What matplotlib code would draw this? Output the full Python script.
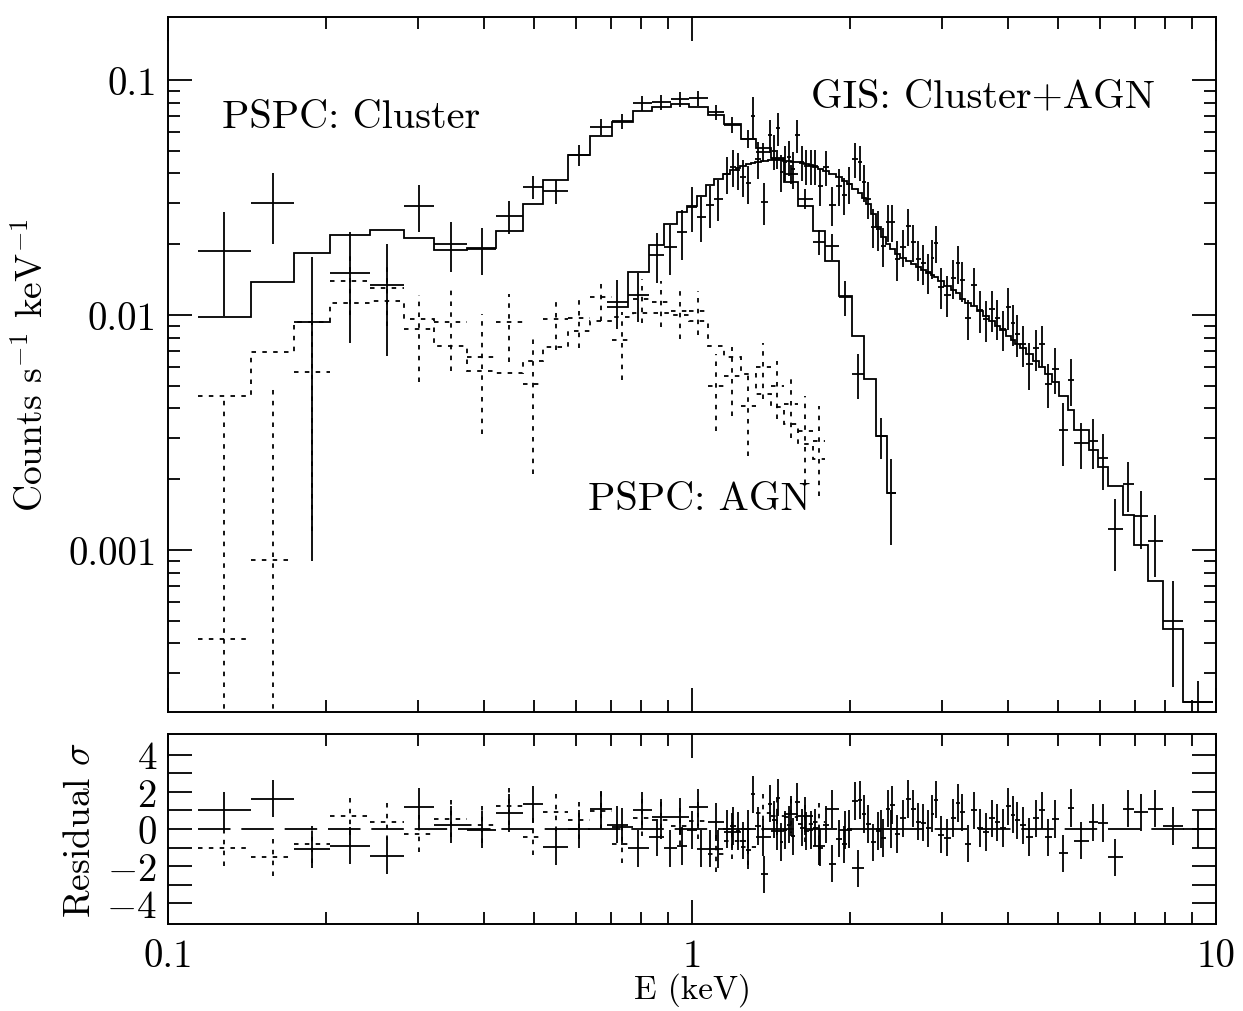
#-*- coding: utf-8 -*-
# Spectre X : PSPC (amas + AGN) et GIS (amas + AGN), avec residus
import numpy as np
import matplotlib
matplotlib.use('Agg')
import matplotlib.pyplot as plt
from matplotlib.ticker import FixedLocator, FixedFormatter, LogLocator, NullFormatter

# ---- PSPC : bornes des canaux (keV)
pspc_edges = [0.114, 0.144, 0.174, 0.204, 0.243, 0.282, 0.322, 0.372, 0.423,
              0.475, 0.520, 0.581, 0.640, 0.702, 0.770, 0.840, 0.910, 0.985,
              1.071, 1.149, 1.238, 1.322, 1.413, 1.496, 1.591, 1.699, 1.791,
              1.905, 2.017, 2.127, 2.242, 2.353, 2.447]

# PSPC amas : taux, erreurs, modele (counts/s/keV)
clu_rate = [0.0187, 0.0300, 0.0093, 0.0151, 0.0134, 0.0291, 0.0200, 0.0191,
            0.0264, 0.0350, 0.0337, 0.0480, 0.0631, 0.0669, 0.0798, 0.0806,
            0.0830, 0.0838, 0.0731, 0.0643, 0.0561, 0.0494, 0.0461, 0.0398,
            0.0312, 0.0205, 0.0197, 0.0119, 0.0056, np.nan, 0.00305, 0.00175]
clu_err = [0.0088, 0.0100, 0.0084, 0.0075, 0.0067, 0.0066, 0.0048, 0.0043,
           0.0042, 0.0040, 0.0040, 0.0048, 0.0050, 0.0050, 0.0060, 0.0060,
           0.0060, 0.0060, 0.0055, 0.0050, 0.0050, 0.0045, 0.0042, 0.0038,
           0.0030, 0.0025, 0.0025, 0.0020, 0.0012, np.nan, 0.0006, 0.0007]
clu_model = [0.0098, 0.0138, 0.0184, 0.0219, 0.0230, 0.0213, 0.0189, 0.0193,
             0.0228, 0.0297, 0.0375, 0.0480, 0.0578, 0.0663, 0.0738, 0.0768,
             0.0790, 0.0768, 0.0710, 0.0650, 0.0561, 0.0514, 0.0466, 0.0368,
             0.0291, 0.0228, 0.0170, 0.0120, 0.00814, 0.00534, 0.00305, 0.00175]

# PSPC AGN (26 premiers canaux)
agn_rate = [0.00042, 0.00091, 0.0057, 0.0140, 0.0130, 0.0087, 0.0093, 0.0066,
            0.0093, 0.0051, 0.0096, 0.0097, 0.0119, 0.0078, 0.0117, 0.0114,
            0.0104, 0.0104, 0.0050, 0.0055, 0.0041, 0.0060, 0.0050, 0.0042,
            0.0032, 0.0029]
agn_err = [0.0041, 0.0040, 0.0045, 0.0040, 0.0040, 0.0035, 0.0035, 0.0035,
           0.0030, 0.0030, 0.0025, 0.0025, 0.0025, 0.0025, 0.0025, 0.0025,
           0.0025, 0.0022, 0.0018, 0.0018, 0.0016, 0.0016, 0.0014, 0.0012,
           0.0013, 0.0012]
agn_model = [0.00452, 0.00696, 0.00934, 0.01125, 0.01147, 0.0096, 0.00738,
             0.00578, 0.00567, 0.00637, 0.00731, 0.00855, 0.00943, 0.0098,
             0.0102, 0.0102, 0.0100, 0.00943, 0.00738, 0.00663, 0.00561,
             0.00461, 0.00406, 0.00344, 0.00283, 0.00244]

# ---- GIS : amas + AGN
gis_edges = [0.687, 0.756, 0.826, 0.886, 0.934, 0.980, 1.020, 1.061, 1.099, 1.144,
             1.184, 1.211, 1.233, 1.266, 1.293, 1.316, 1.352, 1.394, 1.419, 1.444,
             1.470, 1.489, 1.516, 1.543, 1.570, 1.605, 1.633, 1.669, 1.699, 1.736,
             1.775, 1.823, 1.880, 1.930, 1.973, 2.017, 2.071, 2.108, 2.145, 2.193,
             2.242, 2.291, 2.342, 2.384, 2.437, 2.491, 2.557, 2.614, 2.672, 2.731,
             2.793, 2.855, 2.893, 2.944, 3.023, 3.117, 3.187, 3.243, 3.315, 3.404,
             3.495, 3.588, 3.684, 3.784, 3.867, 3.971, 4.058, 4.131, 4.222, 4.335,
             4.471, 4.591, 4.714, 4.861, 5.013, 5.215, 5.355, 5.721, 5.952, 6.220,
             6.643, 6.972, 7.416, 7.920, 8.650, 9.870]
gis_rate = [0.0114, 0.0122, 0.0180, 0.0195, 0.0225, 0.0288, 0.0261, 0.0294, 0.0312, 0.0398,
            0.0426, 0.0414, 0.0387, 0.0364, 0.0703, 0.0461, 0.0303, 0.0583, 0.0499, 0.0625,
            0.0406, 0.0448, 0.0470, 0.0418, 0.0583, 0.0448, 0.0431, 0.0431, 0.0431, 0.0354,
            0.0426, 0.0294, 0.0354, 0.0324, 0.0361, 0.0461, 0.0448, 0.0368, 0.0312, 0.0237,
            0.0232, 0.0197, 0.0249, 0.0249, 0.0173, 0.0195, 0.0239, 0.0205, 0.0173, 0.0166,
            0.0152, 0.0175, 0.0203, 0.0132, 0.0122, 0.0144, 0.0166, 0.0141, 0.0097, 0.0134,
            0.0105, 0.0096, 0.0106, 0.0097, 0.0087, 0.0108, 0.0092, 0.0083, 0.0075, 0.0062,
            0.0072, 0.0075, 0.0051, 0.0059, 0.00324, 0.0053, 0.00285, 0.00291, 0.00246, 0.00123,
            0.00191, 0.00140, 0.00109, 0.00050, 0.000226]
gis_err = [0.0027, 0.0029, 0.0043, 0.0047, 0.0054, 0.0063, 0.0057, 0.0059, 0.0062, 0.0072,
           0.0077, 0.0075, 0.0070, 0.0066, 0.0140, 0.0083, 0.0061, 0.0093, 0.0085, 0.0100,
           0.0073, 0.0076, 0.0080, 0.0075, 0.0093, 0.0076, 0.0073, 0.0073, 0.0073, 0.0064,
           0.0072, 0.0056, 0.0064, 0.0058, 0.0065, 0.0078, 0.0076, 0.0066, 0.0056, 0.0045,
           0.0044, 0.0037, 0.0045, 0.0045, 0.0033, 0.0035, 0.0043, 0.0037, 0.0033, 0.0032,
           0.0029, 0.0033, 0.0037, 0.0026, 0.0024, 0.0027, 0.0030, 0.0027, 0.0019, 0.0025,
           0.0021, 0.0019, 0.0021, 0.0019, 0.0017, 0.0022, 0.0018, 0.0017, 0.0015, 0.0014,
           0.0014, 0.0015, 0.0011, 0.0013, 0.00097, 0.0012, 0.00063, 0.00070, 0.00066, 0.00042,
           0.00046, 0.00039, 0.00032, 0.00024, 0.000052]
gis_model = [0.0108, 0.0152, 0.0199, 0.0244, 0.0274, 0.0291, 0.0321, 0.0357, 0.0379, 0.0398,
             0.0414, 0.0422, 0.0431, 0.0439, 0.0443, 0.0448, 0.0452, 0.0457, 0.0457, 0.0457,
             0.0457, 0.0452, 0.0452, 0.0448, 0.0448, 0.0443, 0.0439, 0.0435, 0.0426, 0.0418,
             0.0410, 0.0398, 0.0387, 0.0372, 0.0361, 0.0344, 0.0330, 0.0315, 0.0297, 0.0269,
             0.0237, 0.0215, 0.0200, 0.0191, 0.0182, 0.0175, 0.0170, 0.0165, 0.0160, 0.0155,
             0.0151, 0.0148, 0.0145, 0.0140, 0.0133, 0.0128, 0.0124, 0.0117, 0.0112, 0.0109,
             0.0104, 0.0099, 0.0094, 0.0090, 0.0086, 0.0081, 0.0078, 0.0075, 0.0072, 0.0068,
             0.0064, 0.0060, 0.0056, 0.0052, 0.0045, 0.00394, 0.00324, 0.00266, 0.00225, 0.00187,
             0.00141, 0.00105, 0.00074, 0.00046, 0.000226]

DOT = (0, (2.5, 3.5))  # style pointille (PSPC AGN)
LW = 1.3
FS = 28   # textes et graduations
FSL = 27  # titres des axes

plt.rcParams['font.family'] = 'cmr10'
plt.rcParams['mathtext.fontset'] = 'cm'
plt.rcParams['axes.unicode_minus'] = False
plt.rcParams['axes.linewidth'] = 1.4


def croix(a, edges, y, err, ls='-'):
    """barres d'erreur en croix : largeur du canal x +/- erreur"""
    edges = np.asarray(edges)
    lo, hi = edges[:-1], edges[1:]
    xc = np.sqrt(lo * hi)
    eb = a.errorbar(xc, y, xerr=[xc - lo, hi - xc], yerr=err, fmt='none',
                    ecolor='k', elinewidth=LW, capsize=0)
    if ls != '-':
        for lc in eb[2]:
            lc.set_linestyle(ls)


def residu(rate, model, err):
    return (np.asarray(rate) - np.asarray(model)) / np.asarray(err)


fig = plt.figure(figsize=(12.43, 10.12), dpi=100)
ax = fig.add_axes([0.1352, 0.2955, 0.8431, 0.6867])
axr = fig.add_axes([0.1352, 0.0860, 0.8431, 0.1877])

# panneau du haut : donnees + modeles
croix(ax, pspc_edges, clu_rate, clu_err)
ax.stairs(clu_model, pspc_edges, color='k', lw=LW, baseline=None)
croix(ax, pspc_edges[:len(agn_rate) + 1], agn_rate, agn_err, ls=DOT)
ax.stairs(agn_model, pspc_edges[:len(agn_model) + 1], color='k', lw=LW,
          baseline=None, linestyle=DOT)
croix(ax, gis_edges, gis_rate, gis_err)
ax.stairs(gis_model, gis_edges, color='k', lw=LW, baseline=None)

ax.text(0.1268, 0.0696, 'PSPC: Cluster', fontsize=FS + 1, va='center', ha='left')
ax.text(1.684, 0.0855, 'GIS: Cluster+AGN', fontsize=FS + 1, va='center', ha='left')
ax.text(0.634, 0.00165, 'PSPC: AGN', fontsize=FS + 1, va='center', ha='left')

ax.set_xscale('log')
ax.set_yscale('log')
ax.set_xlim(0.1, 10)
ax.set_ylim(2.045e-4, 0.1853)
ax.yaxis.set_major_locator(FixedLocator([0.001, 0.01, 0.1]))
ax.yaxis.set_major_formatter(FixedFormatter(['0.001', '0.01', '0.1']))
ax.yaxis.set_minor_locator(LogLocator(base=10, subs=np.arange(2, 10)))
ax.yaxis.set_minor_formatter(NullFormatter())
ax.set_ylabel(r'Counts s$^{-1}$ keV$^{-1}$', fontsize=FSL)
ax.yaxis.set_label_coords(-0.113, 0.5)
ax.tick_params(labelbottom=False)

# panneau du bas : residus en sigma
axr.plot([pspc_edges[0], gis_edges[-1]], [0, 0], color='k', lw=LW,
         linestyle=(0, (18, 6)))
croix(axr, pspc_edges, residu(clu_rate, clu_model, clu_err), 1.0)
croix(axr, pspc_edges[:len(agn_rate) + 1], residu(agn_rate, agn_model, agn_err),
      1.0, ls=DOT)
croix(axr, gis_edges, residu(gis_rate, gis_model, gis_err), 1.0)

axr.set_xscale('log')
axr.set_xlim(0.1, 10)
axr.set_ylim(-5.1, 5.1)
axr.xaxis.set_major_locator(FixedLocator([0.1, 1, 10]))
axr.xaxis.set_major_formatter(FixedFormatter(['0.1', '1', '10']))
axr.xaxis.set_minor_locator(LogLocator(base=10, subs=np.arange(2, 10)))
axr.xaxis.set_minor_formatter(NullFormatter())
axr.yaxis.set_major_locator(FixedLocator(range(-4, 5)))
axr.yaxis.set_major_formatter(FixedFormatter(
    ['$-4$', '', '$-2$', '', '0', '', '2', '', '4']))
axr.set_ylabel(r'Residual $\sigma$', fontsize=FSL)
axr.yaxis.set_label_coords(-0.068, 0.5)
axr.set_xlabel('E (keV)', fontsize=24)
axr.xaxis.set_label_coords(0.5, -0.255)

for a in (ax, axr):
    a.tick_params(which='both', direction='in', top=True, right=True,
                  width=1.3, labelsize=FS)
    a.tick_params(which='major', length=17)
    a.tick_params(which='minor', length=8.5)
    a.tick_params(axis='y', pad=8)
    a.tick_params(axis='x', pad=10)

fig.savefig('out.png', dpi=100)
